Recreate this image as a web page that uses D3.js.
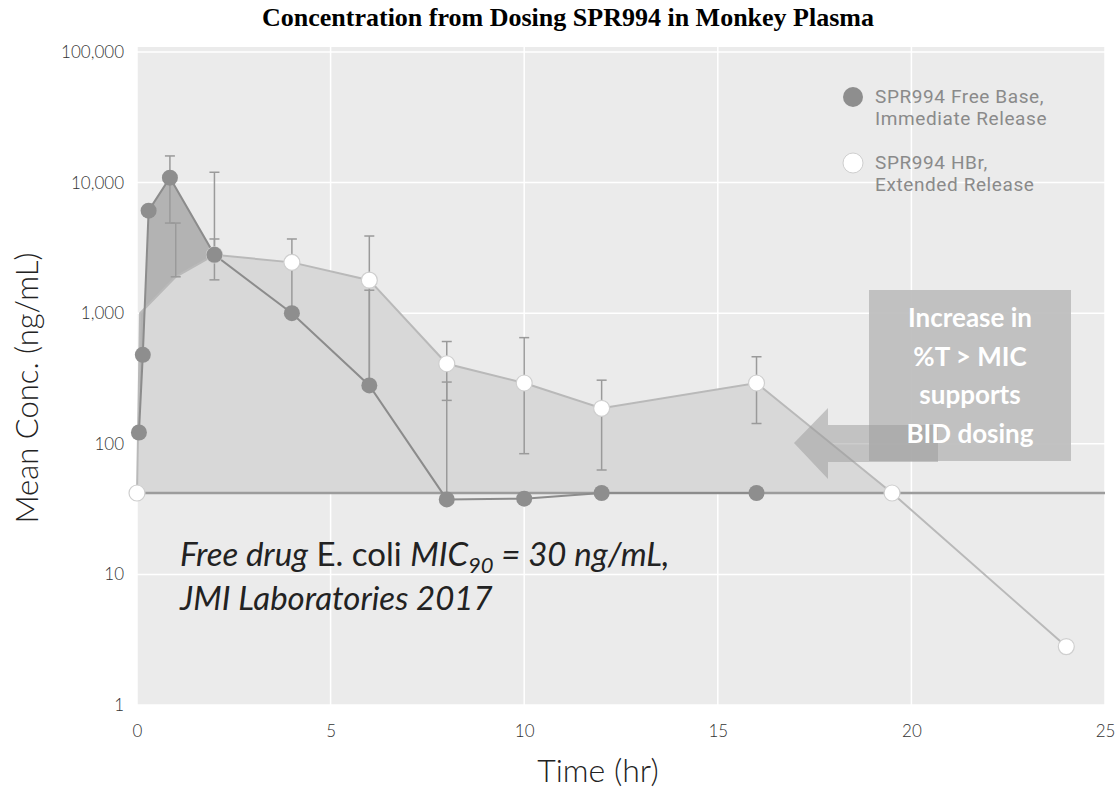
<!DOCTYPE html>
<html>
<head>
<meta charset="utf-8">
<script src="https://cdn.jsdelivr.net/npm/d3@7"></script>
<style>
    body { margin: 0; background: #fff; }
    #chart text { font-family: Lato, "Open Sans", sans-serif; }
</style>
</head>
<body>
<div id="chart"></div>
<script>
// SPR994 free base, immediate release (filled markers)
const irTime = [0.05, 0.15, 0.3, 0.85, 2, 4, 6, 8, 10, 12, 16];
const irConc = [122, 480, 6100, 10900, 2800, 1000, 280, 37.5, 38, 42, 42];
const irErrLow = [null, null, null, 4900, 1800, null, 280, 37.5, null, null, null];
const irErrHigh = [null, null, null, 16000, 3700, null, 1500, 297, null, null, null];

// SPR994 HBr, extended release (open markers)
const erTime = [0, 0.08, 1, 2, 4, 6, 8, 10, 12, 16, 19.5, 24];
const erConc = [42, 1000, 1900, 2800, 2450, 1790, 410, 292, 187, 292, 42, 2.8];
const erErrLow = [null, null, 1900, 2800, 1000, 280, 215, 84, 63, 143, null, null];
const erErrHigh = [null, null, 4900, 12000, 3700, 3900, 607, 650, 307, 464, null, null];
// times where the open marker is visible
const erMarkerTime = [0, 2, 4, 6, 8, 10, 12, 16, 19.5, 24];

const micConc = 42;
const xTicks = [0, 5, 10, 15, 20, 25];
const yTicks = [1, 10, 100, 1000, 10000, 100000];
const legendLabels = [
    ['SPR994 Free Base,', 'Immediate Release'],
    ['SPR994 HBr,', 'Extended Release']
];
const calloutLines = ['Increase in', '%T > MIC', 'supports', 'BID dosing'];

class PkChart {
    constructor(selector) {
        this.container = document.querySelector(selector);
        this.width = 1119;
        this.height = 792;
        this.plot = { left: 137, right: 1105, top: 47, bottom: 705 };
    }

    render() {
        const p = this.plot;
        this.svg = d3.select(this.container).append('svg')
            .attr('width', this.width)
            .attr('height', this.height);

        this.x = d3.scaleLinear().domain([0, 25]).range([p.left, p.right]);
        this.y = d3.scaleLog().domain([1, 100000]).range([705, 52]);

        this.ir = irTime.map((t, i) => ({ t, c: irConc[i], lo: irErrLow[i], hi: irErrHigh[i] }));
        this.er = erTime.map((t, i) => ({ t, c: erConc[i], lo: erErrLow[i], hi: erErrHigh[i] }));

        this._drawFrame();
        this._drawAreas();
        this._drawLines();
        this._drawErrorBars();
        this._drawMarkers();
        this._drawAxes();
        this._drawLegend();
        this._drawNotes();
    }

    /**
     * Plot background and white grid
     */
    _drawFrame() {
        const p = this.plot;
        this.svg.append('rect')
            .attr('x', p.left).attr('y', p.top)
            .attr('width', p.right - p.left).attr('height', p.bottom - p.top)
            .attr('fill', '#ebebeb');

        const grid = this.svg.append('g').attr('stroke', '#fff').attr('stroke-width', 1.5);
        grid.selectAll('.gx').data(xTicks).enter().append('line')
            .attr('x1', d => this.x(d)).attr('x2', d => this.x(d))
            .attr('y1', p.top).attr('y2', p.bottom);
        grid.selectAll('.gy').data(yTicks).enter().append('line')
            .attr('y1', d => this.y(d)).attr('y2', d => this.y(d))
            .attr('x1', p.left).attr('x2', p.right);
    }

    /**
     * Shaded exposure above the MIC line
     */
    _drawAreas() {
        const x = this.x, y = this.y;

        const erArea = d3.area()
            .x(d => x(d.t))
            .y0(y(micConc))
            .y1(d => y(d.c));
        this.svg.append('path')
            .datum(this.er.filter(d => d.c >= micConc))
            .attr('d', erArea)
            .attr('fill', '#d8d8d8');

        // region where immediate release sits above extended release
        const edge = this.ir.filter(d => d.t <= 2)
            .concat(this.er.filter(d => d.t > 0 && d.t <= 2).reverse());
        this.svg.append('path')
            .datum(edge)
            .attr('d', d3.line().x(d => x(d.t)).y(d => y(d.c)).curve(d3.curveLinearClosed))
            .attr('fill', '#b3b3b3');

        this.svg.append('line')
            .attr('x1', this.plot.left).attr('x2', this.plot.right)
            .attr('y1', y(micConc)).attr('y2', y(micConc))
            .attr('stroke', '#9c9c9c').attr('stroke-width', 2.5);
    }

    _drawLines() {
        const line = d3.line().x(d => this.x(d.t)).y(d => this.y(d.c));
        this.svg.append('path').datum(this.er).attr('d', line)
            .attr('fill', 'none').attr('stroke', '#b9b9b9').attr('stroke-width', 2);
        this.svg.append('path').datum(this.ir).attr('d', line)
            .attr('fill', 'none').attr('stroke', '#8c8c8c').attr('stroke-width', 2);
    }

    _drawErrorBars() {
        const bars = this.ir.concat(this.er).filter(d => d.lo !== null);
        const g = this.svg.append('g').attr('stroke', '#9a9a9a').attr('stroke-width', 1.5);
        bars.forEach(d => {
            const cx = this.x(d.t);
            g.append('line').attr('x1', cx).attr('x2', cx)
                .attr('y1', this.y(d.lo)).attr('y2', this.y(d.hi));
            [d.lo, d.hi].forEach(v => {
                g.append('line').attr('x1', cx - 5).attr('x2', cx + 5)
                    .attr('y1', this.y(v)).attr('y2', this.y(v));
            });
        });
    }

    _drawMarkers() {
        this.svg.append('g').selectAll('circle')
            .data(this.er.filter(d => erMarkerTime.includes(d.t)))
            .enter().append('circle')
            .attr('cx', d => this.x(d.t)).attr('cy', d => this.y(d.c))
            .attr('r', 8)
            .attr('fill', '#fff').attr('stroke', '#cfcfcf').attr('stroke-width', 1.2);

        this.svg.append('g').selectAll('circle')
            .data(this.ir)
            .enter().append('circle')
            .attr('cx', d => this.x(d.t)).attr('cy', d => this.y(d.c))
            .attr('r', 8)
            .attr('fill', '#8e8e8e');
    }

    _drawAxes() {
        const fmt = d3.format(',');
        this.svg.append('g')
            .attr('transform', `translate(${this.plot.left - 10},0)`)
            .call(d3.axisLeft(this.y).tickValues(yTicks).tickFormat(fmt).tickSize(0))
            .call(g => g.select('.domain').remove())
            .selectAll('text').attr('font-size', 17).attr('font-weight', 300).attr('fill', '#333');

        this.svg.append('g')
            .attr('transform', `translate(0,${this.plot.bottom + 17})`)
            .call(d3.axisBottom(this.x).tickValues(xTicks).tickSize(0))
            .call(g => g.select('.domain').remove())
            .selectAll('text').attr('font-size', 17).attr('font-weight', 300).attr('fill', '#333');

        this.svg.append('text')
            .attr('x', 598).attr('y', 782)
            .attr('text-anchor', 'middle')
            .attr('font-size', 32).attr('font-weight', 300).attr('fill', '#222')
            .text('Time (hr)');

        this.svg.append('text')
            .attr('transform', 'translate(38,388) rotate(-90)')
            .attr('text-anchor', 'middle')
            .attr('font-size', 31).attr('font-weight', 300).attr('fill', '#222')
            .text('Mean Conc. (ng/mL)');

        this.svg.append('text')
            .attr('x', 568).attr('y', 26)
            .attr('text-anchor', 'middle')
            .style('font-family', '"Liberation Serif", "Times New Roman", serif')
            .attr('font-size', 26).attr('font-weight', 'bold')
            .text('Concentration from Dosing SPR994 in Monkey Plasma');
    }

    _drawLegend() {
        const legend = this.svg.append('g').attr('transform', 'translate(853,97)');
        legendLabels.forEach((lines, i) => {
            const g = legend.append('g').attr('transform', `translate(0,${i * 66})`);
            g.append('circle').attr('r', 10)
                .attr('fill', i === 0 ? '#8e8e8e' : '#fff')
                .attr('stroke', i === 0 ? 'none' : '#cfcfcf');
            lines.forEach((t, j) => {
                g.append('text')
                    .attr('x', 22).attr('y', 6 + j * 22)
                    .style('font-family', 'Roboto, sans-serif')
                    .attr('font-size', 19).attr('fill', '#8a8a8a')
                    .attr('letter-spacing', 0.6)
                    .text(t);
            });
        });
    }

    /**
     * MIC note, callout box and arrow
     */
    _drawNotes() {
        const note = this.svg.append('text')
            .attr('x', 180).attr('y', 566)
            .attr('font-size', 33).attr('fill', '#222');
        note.append('tspan').attr('font-style', 'italic').text('Free drug');
        note.append('tspan').text(' E. coli ');
        note.append('tspan').attr('font-style', 'italic').text('MIC');
        note.append('tspan').attr('font-style', 'italic').attr('font-size', 22).attr('dy', 7).text('90');
        note.append('tspan').attr('font-style', 'italic').attr('dy', -7).text(' = 30 ng/mL,');

        this.svg.append('text')
            .attr('x', 180).attr('y', 610)
            .attr('font-size', 33).attr('font-style', 'italic').attr('fill', '#222')
            .text('JMI Laboratories 2017');

        this.svg.append('rect')
            .attr('x', 869).attr('y', 290)
            .attr('width', 202).attr('height', 171)
            .attr('fill', '#bdbdbd').attr('opacity', 0.92);

        this.svg.append('path')
            .attr('d', 'M794,443 L828,408 L828,425 L938,425 L938,462 L828,462 L828,479 Z')
            .attr('fill', '#9a9a9a').attr('opacity', 0.5);

        this.svg.append('g').selectAll('text')
            .data(calloutLines).enter().append('text')
            .attr('x', 970)
            .attr('y', (d, i) => 327 + i * 38.5)
            .attr('text-anchor', 'middle')
            .attr('font-size', 26).attr('font-weight', 'bold').attr('fill', '#fff')
            .text(d => d);
    }
}

const chart = new PkChart('#chart');
chart.render();
</script>
</body>
</html>
